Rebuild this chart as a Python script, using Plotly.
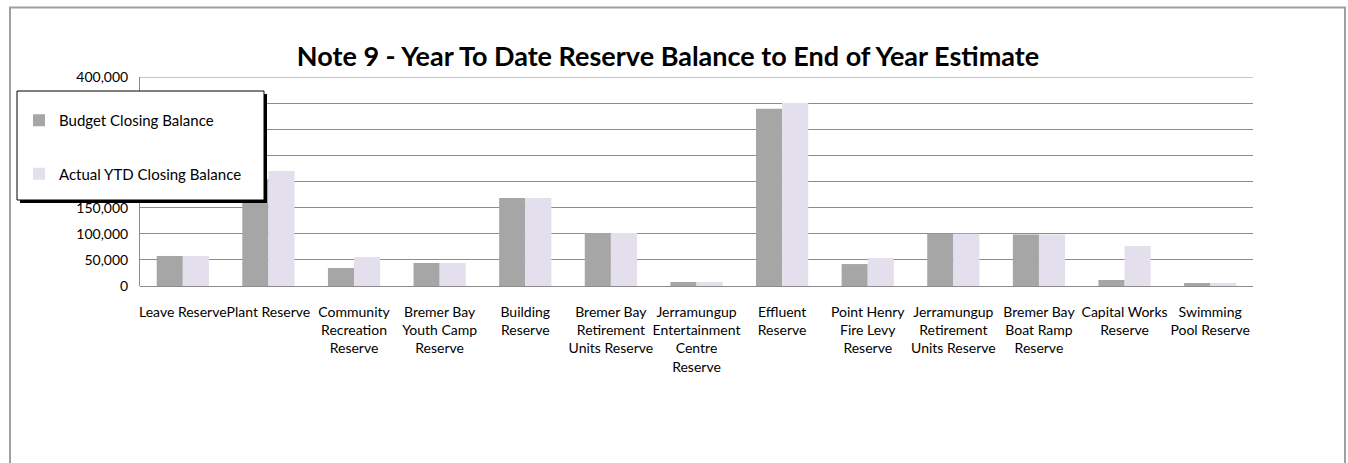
import plotly.graph_objects as go

categories = [
    "Leave Reserve", "Plant Reserve", "Community<br>Recreation<br>Reserve",
    "Bremer Bay<br>Youth Camp<br>Reserve", "Building<br>Reserve",
    "Bremer Bay<br>Retirement<br>Units Reserve",
    "Jerramungup<br>Entertainment<br>Centre<br>Reserve",
    "Effluent<br>Reserve", "Point Henry<br>Fire Levy<br>Reserve",
    "Jerramungup<br>Retirement<br>Units Reserve",
    "Bremer Bay<br>Boat Ramp<br>Reserve", "Capital Works<br>Reserve",
    "Swimming<br>Pool Reserve",
]
budget = [57500, 205000, 34500, 44000, 168500, 101500, 7700, 339000, 42000, 100000, 98500, 11500, 5700]
actual = [57500, 220000, 55500, 44000, 168500, 101500, 7700, 350000, 53500, 100000, 98500, 76500, 5700]
tick_vals = [0, 50000, 100000, 150000, 200000, 250000, 300000, 350000, 400000]
# labels 200,000-350,000 sit behind the legend box in the original
tick_text = ["0", "50,000", "100,000", "150,000", "", "", "", "", "400,000"]

W, H = 1348, 463
L, R, T, B = 140, 1253, 77, 286


def px(x):
    return (x - L) / (R - L)


def py(y):
    return (B - y) / (B - T)


FONT = "Lato"

fig = go.Figure()
fig.add_trace(go.Bar(name="Budget Closing Balance", x=categories, y=budget,
                     marker=dict(color="#A6A6A6", line=dict(width=0)),
                     legendgroup="a", hoverinfo="skip"))
fig.add_trace(go.Bar(name="Actual YTD Closing Balance", x=categories, y=actual,
                     marker=dict(color="#E4DFEC", line=dict(width=0)),
                     legendgroup="b", hoverinfo="skip"))

shapes = [
    # outer chart border
    dict(type="rect", xref="paper", yref="paper", x0=px(10), x1=px(1345), y0=py(475), y1=py(7.5),
         line=dict(color="#A0A0A0", width=2), fillcolor="rgba(0,0,0,0)", layer="below"),
    # top gridline at the axis maximum
    dict(type="line", xref="paper", yref="y", x0=0, x1=1, y0=tick_vals[-1], y1=tick_vals[-1],
         line=dict(color="#B4B4B4", width=1.5), layer="below"),
    # legend shadow
    dict(type="rect", xref="paper", yref="paper", x0=px(20), x1=px(267), y0=py(203), y1=py(94),
         line=dict(width=0), fillcolor="black", layer="above"),
    # legend box
    dict(type="rect", xref="paper", yref="paper", x0=px(17), x1=px(264), y0=py(200), y1=py(91),
         line=dict(color="black", width=1), fillcolor="white", layer="above"),
]

fig.update_layout(
    width=W, height=H,
    margin=dict(l=L, r=W - R, t=T, b=H - B, pad=0),
    paper_bgcolor="white", plot_bgcolor="white",
    barmode="group", bargap=0.39, bargroupgap=0,
    font=dict(family=FONT, size=14, color="black"),
    title=dict(text="<b>Note 9 - Year To Date Reserve Balance to End of Year Estimate</b>",
               x=668 / W, xanchor="center", y=1 - 57 / H, yanchor="middle",
               xref="container", yref="container",
               font=dict(family=FONT, size=27, color="black")),
    showlegend=True,
    legend=dict(x=px(19), xanchor="left", y=py(104), yanchor="top",
                bgcolor="rgba(0,0,0,0)", borderwidth=0,
                tracegroupgap=31, traceorder="grouped",
                font=dict(family=FONT, size=15, color="black")),
    shapes=shapes,
    xaxis=dict(showgrid=False, showline=False, ticks="", tickangle=0,
               ticklabelstandoff=16, tickfont=dict(family=FONT, size=14)),
    yaxis=dict(range=[0, 400000], tickvals=tick_vals, ticktext=tick_text,
               showgrid=True, gridcolor="#8C8C8C", gridwidth=1,
               zeroline=True, zerolinecolor="#8C8C8C", zerolinewidth=1,
               showline=True, linecolor="#8C8C8C", linewidth=1,
               ticks="", ticklabelstandoff=8,
               tickfont=dict(family=FONT, size=14)),
)

fig.write_html("out.html", config={"displayModeBar": False},
               post_script="document.body.style.margin='0px';")
